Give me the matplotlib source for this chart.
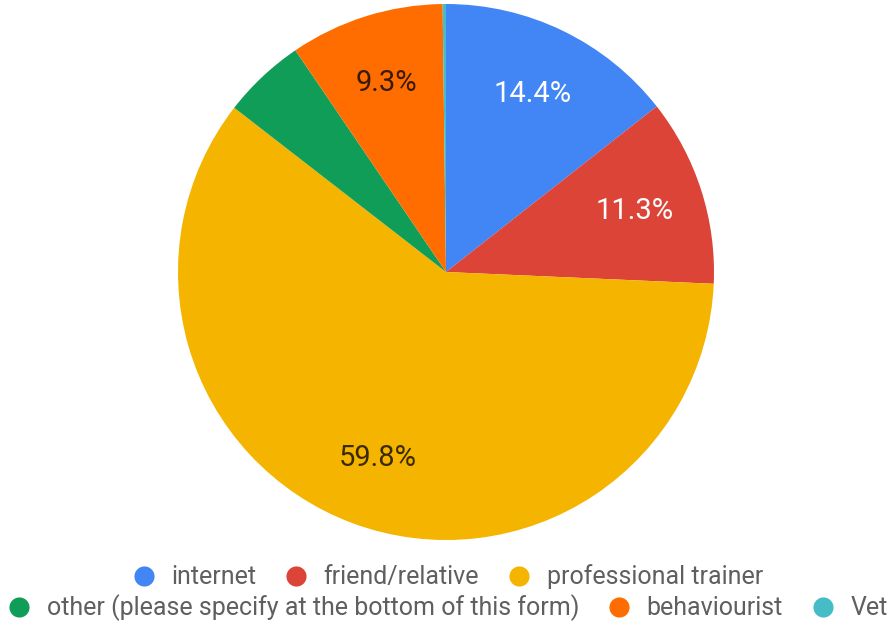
import matplotlib
matplotlib.use("Agg")
import matplotlib.pyplot as plt
from matplotlib.lines import Line2D
import numpy as np

categories = ["internet", "friend/relative", "professional trainer",
              "other (please specify at the bottom of this form)", "behaviourist", "Vet"]
values = [14.4, 11.3, 59.8, 5.0, 9.3, 0.2]
colors = ["#4285F4", "#DB4437", "#F4B400", "#0F9D58", "#FF6D01", "#46BDC6"]
label_colors = ["white", "white", "#3a2a00", "white", "#3a1a00", "white"]
show_label = [True, True, True, False, True, False]

plt.rcParams['font.family'] = ['Roboto', 'DejaVu Sans']

W, H = 890, 628
fig = plt.figure(figsize=(W / 100, H / 100), dpi=100)
cx, cy, R = 446, 272, 268
ax = fig.add_axes([(cx - R) / W, (H - cy - R) / H, 2 * R / W, 2 * R / H])

wedges, _ = ax.pie(values, colors=colors, startangle=90, counterclock=False,
                   radius=1, wedgeprops=dict(linewidth=0), labels=None)

total = sum(values)
cum = 0
for v, c, s in zip(values, label_colors, show_label):
    mid = cum + v / 2
    cum += v
    if not s:
        continue
    ang = np.deg2rad(90 - 360 * mid / total)
    r = 0.74
    ax.text(r * np.cos(ang), r * np.sin(ang), f"{v:.1f}%", ha="center", va="center",
            fontsize=21, color=c)

ax.set_xlim(-1, 1)
ax.set_ylim(-1, 1)
ax.set_aspect("equal")
ax.axis("off")

def handles(idx):
    return [Line2D([0], [0], marker="o", linestyle="none", markersize=14.5,
                   markerfacecolor=colors[i], markeredgewidth=0) for i in idx]

rows = [[0, 1, 2], [3, 4, 5]]
ys = [H - 577, H - 608]
for row, y in zip(rows, ys):
    fig.legend(handles(row), [categories[i] for i in row], loc="center",
               bbox_to_anchor=(447 / W, y / H), ncol=3, frameon=False,
               fontsize=18, handletextpad=0.6, columnspacing=1.1,
               handlelength=1.0, labelcolor="#5f5f5f", borderpad=0, borderaxespad=0)

fig.savefig("out.png", dpi=100, facecolor="white")
